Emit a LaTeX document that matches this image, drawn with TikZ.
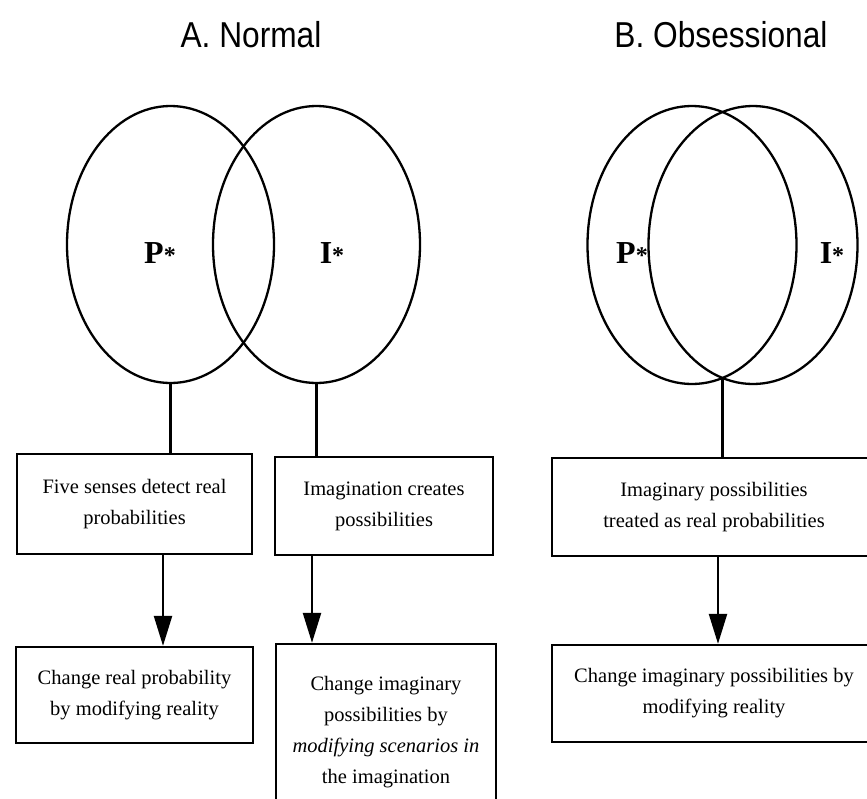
\documentclass[tikz,border=0pt]{standalone}
\usepackage{fontspec}
\setmainfont{Liberation Serif}
\newfontfamily\titlefont[FakeStretch=0.88]{Liberation Sans}
\usetikzlibrary{shapes.geometric,arrows.meta}
\newcommand{\pstar}[1]{\textbf{#1}{\fontsize{24}{24}\selectfont\textbf{*}}}

\begin{document}
\begin{tikzpicture}[x=1pt,y=-1pt,line width=2.3pt,
  venn/.style={draw,ellipse,inner sep=0pt,minimum width=207,minimum height=277},
  box/.style={draw,rectangle,align=center,inner sep=0pt,font=\fontsize{20.5}{31}\selectfont},
  title/.style={font=\titlefont\fontsize{36}{40}\selectfont,anchor=base},
  lbl/.style={font=\fontsize{32}{32}\selectfont},
  >={Triangle[length=30pt,width=18pt]}]
  \useasboundingbox (0,0) rectangle (867,798);

  %titles
  \node[title] (tA) at (251,47) {A. Normal};
  \node[title] (tB) at (721,47) {B. Obsessional};

  %normal: two circles just touching in the middle
  \node[venn] (P) at (170.5,244.5) {};
  \node[venn] (I) at (316.5,244.5) {};
  \node[lbl] (Pl) at (160,253) {\pstar{P}};
  \node[lbl] (Il) at (332,253) {\pstar{I}};

  \node[box,minimum width=235,minimum height=100] (senses) at (134.5,504)
    {Five senses detect real\\probabilities};
  \node[box,minimum width=218,minimum height=98] (creates) at (384,506)
    {Imagination creates\\possibilities};
  \node[box,minimum width=237,minimum height=96] (realchg) at (134.5,695)
    {Change real probability\\by modifying reality};
  \node[box,minimum width=220,minimum height=176] (imagchg) at (386,732)
    {Change imaginary\\possibilities by\\\textit{modifying scenarios in}\\the imagination};

  \coordinate (s1) at (163,0);
  \coordinate (s2) at (312,0);
  \draw (P.south) -- (P.south |- senses.north);
  \draw (I.south) -- (I.south |- creates.north);
  \draw[->] (s1 |- senses.south) -- (s1 |- realchg.north);
  \draw[->] (s2 |- creates.south) -- (s2 |- imagchg.north);

  %obsessional: circles largely overlapping
  \node[venn,minimum width=209,minimum height=278] (P2) at (692,245) {};
  \node[venn,minimum width=209,minimum height=278] (I2) at (753,245) {};
  \node[lbl] (P2l) at (632,253) {\pstar{P}};
  \node[lbl] (I2l) at (832,253) {\pstar{I}};

  \node[box,minimum width=324,minimum height=98] (treated) at (714,507)
    {Imaginary possibilities\\treated as real probabilities};
  \node[box,minimum width=324,minimum height=97] (realmod) at (714,693.5)
    {Change imaginary possibilities by\\modifying reality};

  \coordinate (meet) at (722.5,378);
  \coordinate (s3) at (718,0);
  \draw (meet) -- (meet |- treated.north);
  \draw[->] (s3 |- treated.south) -- (s3 |- realmod.north);
\end{tikzpicture}
\end{document}
